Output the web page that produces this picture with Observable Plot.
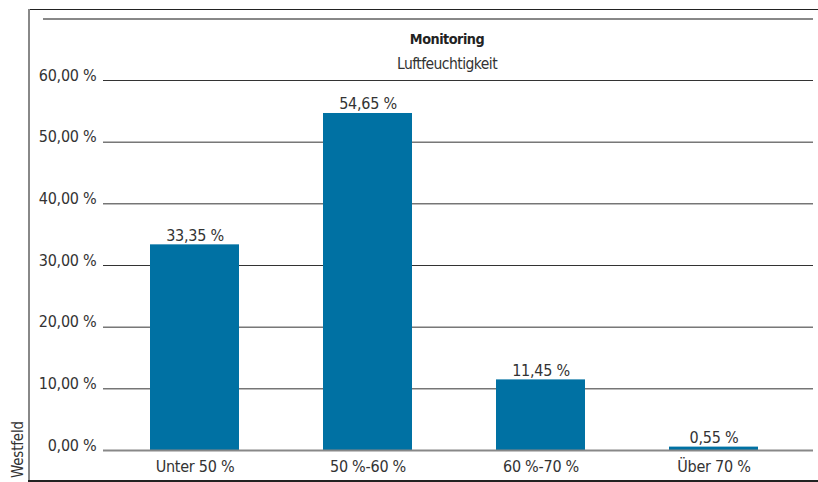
<!DOCTYPE html>
<html>
<head>
<meta charset="utf-8">
<script src="https://cdn.jsdelivr.net/npm/d3@7"></script>
<script src="https://cdn.jsdelivr.net/npm/@observablehq/plot@0.6"></script>
<style>
  html, body { margin: 0; padding: 0; background: #fff; }
  #wrap { position: relative; width: 818px; height: 482px; overflow: hidden; font-family: "DejaVu Sans Condensed", "DejaVu Sans", sans-serif; color: #333; }
  #wrap svg { position: absolute; left: 0; top: 0; }
  .ln { position: absolute; }
  #side { position: absolute; left: 8.5px; top: 478px; transform-origin: 0 0; transform: rotate(-90deg); font-size: 15px; letter-spacing: -0.2px; line-height: 18px; white-space: nowrap; color: #333; }
  .ttl { letter-spacing: -0.5px; }
  .sub { letter-spacing: -0.55px; }
  .num text { letter-spacing: -0.25px; }
</style>
</head>
<body>
<div id="wrap"></div>
<script>
const categories = ["Unter 50 %", "50 %-60 %", "60 %-70 %", "Über 70 %"];
const values = [33.35, 54.65, 11.45, 0.55];
const valueLabels = ["33,35 %", "54,65 %", "11,45 %", "0,55 %"];
const yTicks = [0, 10, 20, 30, 40, 50, 60];
const yTickLabels = ["0,00 %", "10,00 %", "20,00 %", "30,00 %", "40,00 %", "50,00 %", "60,00 %"];
const title = "Monitoring";
const subtitle = "Luftfeuchtigkeit";
const sideLabel = "Westfeld";

const data = categories.map((c, i) => ({category: c, value: values[i], label: valueLabels[i]}));

const FONT = "'DejaVu Sans Condensed', 'DejaVu Sans', sans-serif";

const chart = Plot.plot({
  width: 818,
  height: 482,
  marginLeft: 103,
  marginRight: 5,
  marginTop: 80,
  marginBottom: 32,
  style: {fontFamily: FONT, fontSize: "16px", color: "#333", background: "transparent", overflow: "visible"},
  x: {domain: categories, paddingInner: 0.487, paddingOuter: 0.25, insetLeft: 3, insetRight: 11, label: null},
  y: {domain: [0, 60], label: null},
  marks: [
    Plot.gridY(yTicks.slice(1), {stroke: "#333", strokeOpacity: 1, strokeWidth: 1}),
    Plot.barY(data, {x: "category", y: "value", fill: "#0071a3"}),
    Plot.ruleY([0], {stroke: "#888", strokeWidth: 2}),
    Plot.text(data, {x: "category", y: "value", text: "label", lineAnchor: "bottom", dy: -4, fill: "#333", fontSize: 16, className: "num"}),
    Plot.axisX({tickSize: 0, tickPadding: 10, fontSize: 16, label: null, fill: "#333", className: "num"}),
    Plot.axisY({ticks: yTicks, tickFormat: (d) => yTickLabels[yTicks.indexOf(d)], tickSize: 0, tickPadding: 7, lineAnchor: "bottom", fontSize: 16, label: null, fill: "#333", className: "num"}),
    Plot.text([title], {frameAnchor: "top", dx: -11.5, dy: -37, lineAnchor: "bottom", fontWeight: "bold", fontSize: 14.3, fill: "#222", className: "ttl"}),
    Plot.text([subtitle], {frameAnchor: "top", dx: -11.5, dy: -12, lineAnchor: "bottom", fontSize: 15.5, fill: "#333", className: "sub"})
  ]
});

const wrap = document.getElementById("wrap");
wrap.appendChild(chart);

function line(left, top, w, h, color) {
  const d = document.createElement("div");
  d.className = "ln";
  d.style.cssText = `left:${left}px;top:${top}px;width:${w}px;height:${h}px;background:${color};`;
  wrap.appendChild(d);
}
line(28, 8.5, 790, 1.5, "#222");
line(28, 9, 2, 472, "#888");
line(28, 480, 790, 2, "#222");
line(43, 18, 770, 2, "#888");

const side = document.createElement("div");
side.id = "side";
side.textContent = sideLabel;
wrap.appendChild(side);
</script>
</body>
</html>
